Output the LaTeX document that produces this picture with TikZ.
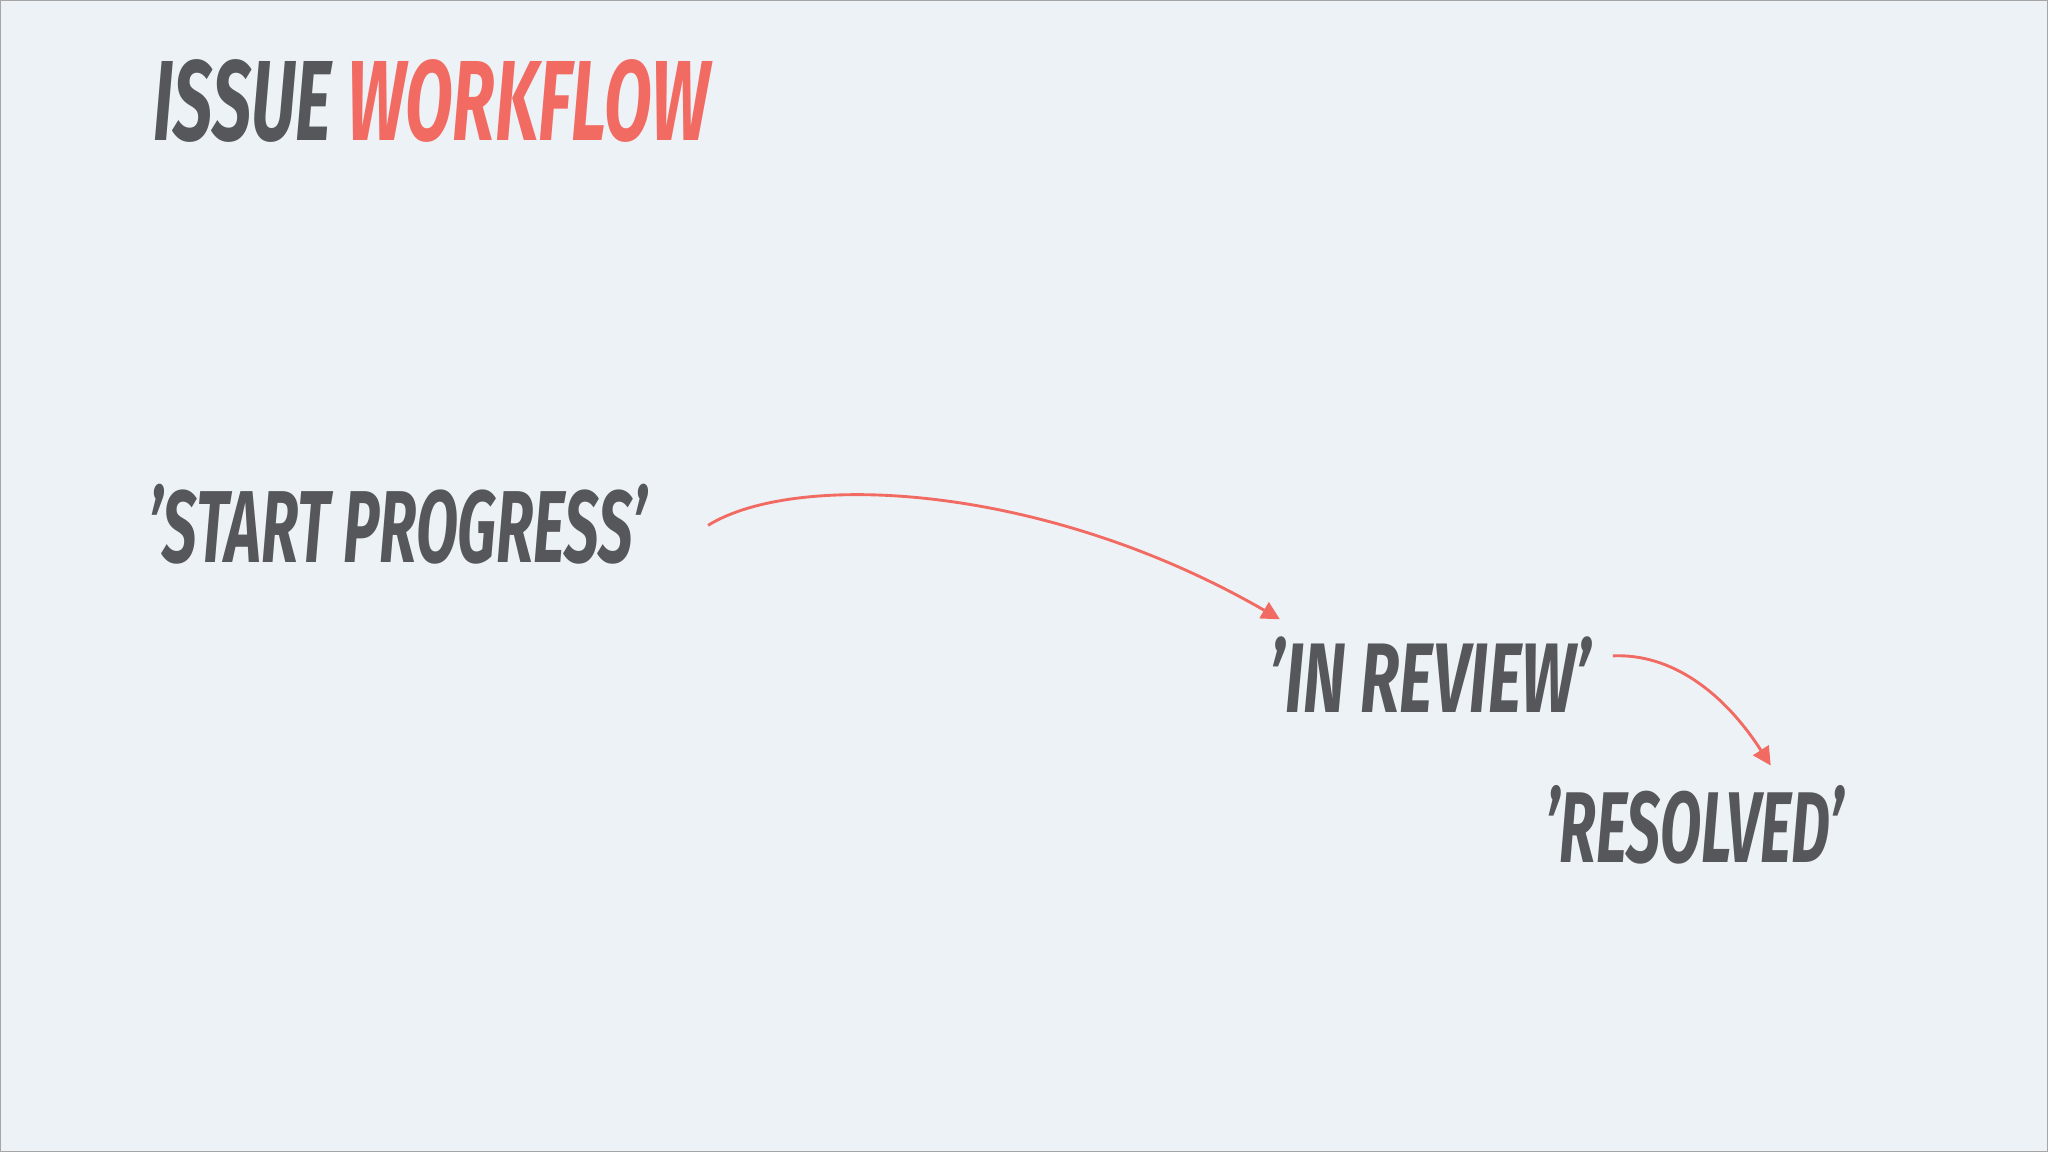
\documentclass[tikz,border=0pt]{standalone}
\usepackage{fontspec}
\usepackage{graphicx}
\setmainfont{Fira Sans}
\usetikzlibrary{arrows.meta}
\definecolor{bg}{HTML}{EDF2F7}
\definecolor{ink}{HTML}{55575A}
\definecolor{accent}{HTML}{F26B63}
\tikzset{
  lbl/.style={inner sep=0pt, anchor=north west, text=ink, font=\bfseries\itshape},
  flow/.style={draw=accent, line width=2.2pt, -{Triangle[length=14pt,width=14pt]}}
}
\begin{document}
\begin{tikzpicture}[x=1pt,y=-1pt]
\path[fill=bg, draw=gray!70, line width=0.8pt] (0,0) rectangle (1568,882);
\node[lbl] (title) at (117,45) {\resizebox{426pt}{62pt}{ISSUE \textcolor{accent}{WORKFLOW}}};
\node[lbl] (start) at (113,370) {\resizebox{382pt}{60pt}{'START PROGRESS'}};
\node[lbl] (review) at (972,487) {\resizebox{246pt}{58pt}{'IN REVIEW'}};
\node[lbl] (resolved) at (1183,601) {\resizebox{229pt}{59pt}{'RESOLVED'}};
\coordinate (a1) at (542,402);
\coordinate (a2) at (980,474);
\coordinate (b1) at (1235,502);
\coordinate (b2) at (1356,586);
\draw[flow] (a1) .. controls (610,360) and (800,370) .. (a2);
\draw[flow] (b1) .. controls (1280,500) and (1320,530) .. (b2);
\end{tikzpicture}
\end{document}
